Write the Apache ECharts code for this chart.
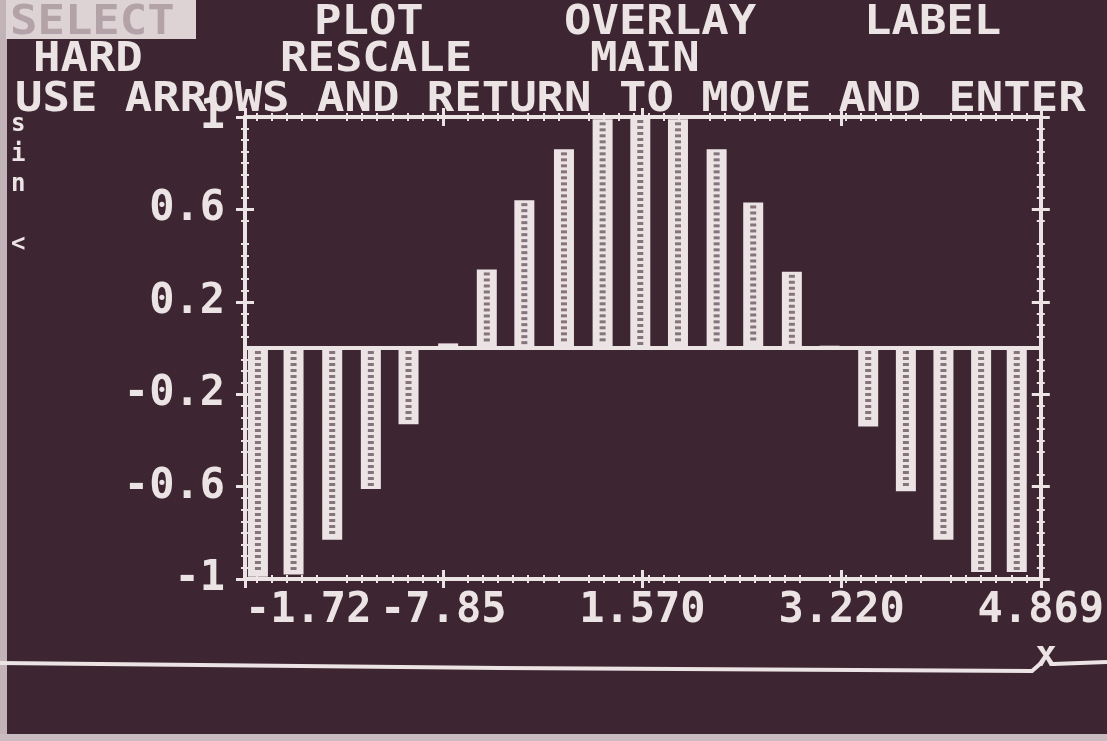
<!DOCTYPE html>
<html>
<head>
<meta charset="utf-8">
<script src="https://cdn.jsdelivr.net/npm/echarts@6/dist/echarts.min.js"></script>
<style>
  html, body { margin: 0; padding: 0; background: #3d2631; }
  #chartmain { width: 1107px; height: 741px; }
</style>
</head>
<body>
<div id="chartmain"></div>
<script>
// bar positions (x) and heights (sin x)
var xValues = [-1.613, -1.318, -0.998, -0.678, -0.366, -0.038, 0.282, 0.593, 0.921, 1.241, 1.553,
               1.865, 2.185, 2.488, 2.808, 3.120, 3.440, 3.752, 4.063, 4.375, 4.670];
var sinValues = [-0.99, -0.98, -0.83, -0.61, -0.33, 0.02, 0.34, 0.64, 0.86, 0.99, 1.0,
                 0.99, 0.86, 0.63, 0.33, 0.01, -0.34, -0.62, -0.83, -0.97, -0.97];

var xTicks = [-1.72, -0.0785, 1.570, 3.220, 4.869];
var xTickLabels = ['-1.72', '-7.85', '1.570', '3.220', '4.869'];
var yTicks = [-1, -0.6, -0.2, 0.2, 0.6, 1];
var yTickLabels = ['-1', '-0.6', '-0.2', '0.2', '0.6', '1'];

var WHITE = '#ece4e4';
var BG = '#3d2631';
var MONO = '"DejaVu Sans Mono", monospace';

var myChart = echarts.init(document.getElementById('chartmain'));

// one axis per side and tick direction, so the ticks cross the box lines
function xAx(pos, inside, withLabels) {
  return {
    type: 'value', min: -1.72, max: 4.869, position: pos,
    axisLine: { onZero: false, lineStyle: { color: WHITE, width: 4 } },
    axisTick: { customValues: xTicks, inside: inside, length: 9, lineStyle: { color: WHITE, width: 3 } },
    minorTick: { show: true, splitNumber: 8, length: 4, lineStyle: { color: WHITE, width: 2 } },
    splitLine: { show: false },
    axisLabel: withLabels ? {
      customValues: xTicks,
      alignMinLabel: 'left',
      color: WHITE, fontFamily: MONO, fontWeight: 'bold', fontSize: 42, margin: 11,
      formatter: function (v) {
        for (var i = 0; i < xTicks.length; i++) if (Math.abs(xTicks[i] - v) < 1e-6) return xTickLabels[i];
        return '';
      }
    } : { show: false }
  };
}
function yAx(pos, inside, withLabels) {
  return {
    type: 'value', min: -1, max: 1, position: pos,
    axisLine: { onZero: false, lineStyle: { color: WHITE, width: 4 } },
    axisTick: { customValues: yTicks, inside: inside, length: 9, lineStyle: { color: WHITE, width: 3 } },
    minorTick: { show: true, splitNumber: 10, length: 4, lineStyle: { color: WHITE, width: 2 } },
    splitLine: { show: false },
    axisLabel: withLabels ? {
      customValues: yTicks,
      color: WHITE, fontFamily: MONO, fontWeight: 'bold', fontSize: 42, margin: 20,
      formatter: function (v) {
        for (var i = 0; i < yTicks.length; i++) if (Math.abs(yTicks[i] - v) < 1e-6) return yTickLabels[i];
        return '';
      }
    } : { show: false }
  };
}

function menuText(x, y, text, fill) {
  return {
    type: 'text', x: x, y: y, scaleX: 1.14, z: 10,
    style: { text: text, fill: fill || WHITE, fontFamily: MONO, fontWeight: 'bold', fontSize: 40, verticalAlign: 'middle' }
  };
}

myChart.setOption({
  backgroundColor: BG,
  animation: false,
  grid: { left: 245, right: 59, top: 117, bottom: 162 },
  xAxis: [xAx('bottom', false, true), xAx('bottom', true, false), xAx('top', false, false), xAx('top', true, false)],
  yAxis: [yAx('left', false, true), yAx('left', true, false), yAx('right', false, false), yAx('right', true, false)],
  series: [
    {
      type: 'line',
      xAxisIndex: 0, yAxisIndex: 0,
      data: [[-1.72, 0], [4.869, 0]],
      symbol: 'none',
      lineStyle: { color: WHITE, width: 4 },
      silent: true
    },
    {
      type: 'custom',
      xAxisIndex: 0, yAxisIndex: 0,
      data: xValues.map(function (x, i) { return [x, sinValues[i]]; }),
      encode: { x: 0, y: 1 },
      renderItem: function (params, api) {
        var top = api.coord([api.value(0), api.value(1)]);
        var base = api.coord([api.value(0), 0]);
        var y0 = Math.min(top[1], base[1]);
        var h = Math.abs(top[1] - base[1]);
        var kids = [{
          type: 'rect',
          shape: { x: top[0] - 10, y: y0, width: 20, height: h },
          style: { fill: WHITE }
        }];
        for (var yy = y0 + 3; yy + 3 <= y0 + h - 2; yy += 6) {
          kids.push({
            type: 'rect',
            shape: { x: top[0] - 3, y: yy, width: 6, height: 3 },
            style: { fill: '#85747a' }
          });
        }
        return { type: 'group', children: kids };
      }
    }
  ],
  graphic: [
    // screen bezel edges
    { type: 'rect', shape: { x: 0, y: 0, width: 7, height: 741 }, style: { fill: '#c2b3b8' } },
    { type: 'rect', shape: { x: 0, y: 734, width: 1107, height: 7 }, style: { fill: '#c9bcc0' } },
    // menu
    { type: 'rect', shape: { x: 6, y: 0, width: 190, height: 39 }, style: { fill: '#ddd3d5' } },
    menuText(10, 24, 'SELECT', '#b3a2a8'),
    menuText(314, 24, 'PLOT'),
    menuText(564, 24, 'OVERLAY'),
    menuText(864, 24, 'LABEL'),
    menuText(33, 61, 'HARD'),
    menuText(280, 61, 'RESCALE'),
    menuText(590, 61, 'MAIN'),
    menuText(15, 101, 'USE ARROWS AND RETURN TO MOVE AND ENTER'),
    // vertical y name
    {
      type: 'text', x: 11, y: 110,
      style: { text: 's\ni\nn\n\n<', fill: WHITE, fontFamily: MONO, fontWeight: 'bold', fontSize: 24, lineHeight: 30 }
    },
    // cursor line with x marker
    {
      type: 'polyline',
      shape: { points: [[0, 663], [500, 668], [1032, 671], [1040, 664]] },
      style: { stroke: WHITE, lineWidth: 4, fill: null }
    },
    {
      type: 'polyline',
      shape: { points: [[1053, 664], [1107, 662]] },
      style: { stroke: WHITE, lineWidth: 4, fill: null }
    },
    {
      type: 'text', x: 1046, y: 657,
      style: { text: 'x', fill: WHITE, fontFamily: MONO, fontWeight: 'bold', fontSize: 36, align: 'center', verticalAlign: 'middle' }
    }
  ]
});
</script>
</body>
</html>
